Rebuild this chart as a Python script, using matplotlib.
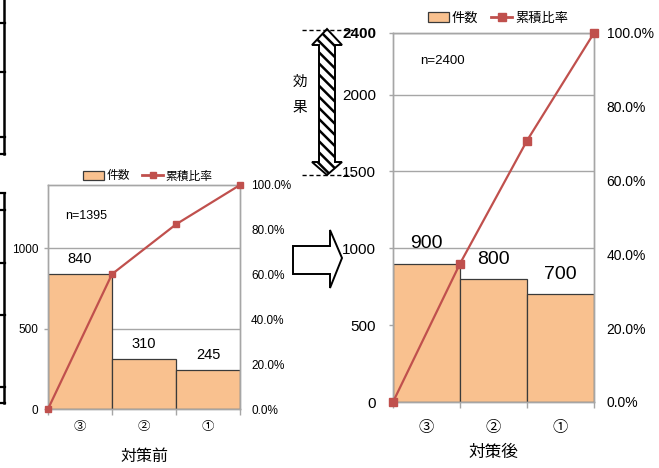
import numpy as np
import matplotlib
matplotlib.use('Agg')
import matplotlib.pyplot as plt
from matplotlib.patches import Polygon, Patch
from matplotlib.lines import Line2D

# 件数 per cause, before and after the countermeasure
cats = ['③', '②', '①']
before = [840, 310, 245]
after = [900, 800, 700]
before_ticks = [0, 500, 1000]
after_ticks = [0, 500, 1000, 1500, 2000, 2400]
pct_ticks = [0, 20, 40, 60, 80, 100]

BAR = '#F9C18F'
EDGE = '#3a3a3a'
LINE = '#C0504D'
GRID = '#A6A6A6'
JP = ['Noto Sans CJK JP', 'DejaVu Sans']
NUM = 'Liberation Sans'

plt.rcParams['hatch.linewidth'] = 1.8

W, H = 659, 468
fig = plt.figure(figsize=(W / 100, H / 100), dpi=100)


def fx(x):
    return x / W


def fy(y):
    return 1 - y / H


def pareto(box, counts, yticks, sz):
    x0, y0, x1, y1 = box
    ax = fig.add_axes([fx(x0), fy(y1), fx(x1) - fx(x0), fy(y0) - fy(y1)])
    total = sum(counts)
    x = np.arange(len(counts))
    ax.bar(x, counts, width=1.0, color=BAR, edgecolor=EDGE, linewidth=0.9, zorder=2)
    ax.set_xlim(-0.5, len(counts) - 0.5)
    ax.set_ylim(0, total)
    ax.set_yticks(yticks)
    ax.set_yticklabels([str(t) for t in yticks], fontsize=sz['tick'], family=NUM)
    ax.grid(axis='y', color=GRID, lw=1.0)
    ax.set_axisbelow(True)
    ax.set_xticks(x)
    ax.set_xticklabels(cats, fontsize=sz['cat'], family=JP)
    ax.set_xticks(np.arange(len(counts) + 1) - 0.5, minor=True)
    ax.tick_params(axis='x', which='major', length=0, pad=sz['catpad'])
    ax.tick_params(axis='x', which='minor', length=4, color=GRID, width=1)
    ax.tick_params(axis='y', length=3, color=GRID, width=1, pad=sz['lpad'])
    for s in ax.spines.values():
        s.set_color(GRID)
        s.set_linewidth(1.0)

    for i, v in enumerate(counts):
        ax.annotate(str(v), (i, v), xytext=(0, sz['voff']), textcoords='offset points',
                    ha='center', va='baseline', fontsize=sz['val'], family=NUM)
    ax.text(sz['nx'], sz['ny'], f'n={total}', transform=ax.transAxes, fontsize=sz['n'],
            family=NUM, va='center')

    ax2 = ax.twinx()
    edges = np.arange(len(counts) + 1) - 0.5
    cum = np.concatenate([[0], np.cumsum(counts)]) / total * 100
    ax2.plot(edges, cum, color=LINE, lw=1.6, marker='s', ms=sz['ms'],
             clip_on=False, zorder=5)
    ax2.set_ylim(0, 100)
    ax2.set_yticks(pct_ticks)
    ax2.set_yticklabels([f'{p:.1f}%' for p in pct_ticks], fontsize=sz['ptick'], family=NUM)
    ax2.tick_params(axis='y', length=0, pad=sz['rpad'])
    for s in ax2.spines.values():
        s.set_color(GRID)
        s.set_linewidth(1.0)

    handles = [Patch(facecolor=BAR, edgecolor=EDGE, linewidth=0.9),
               Line2D([], [], color=LINE, lw=2, marker='s', ms=sz['ms'])]
    ax.legend(handles, ['件数', '累積比率'], loc='center', ncol=2, frameon=False,
              bbox_to_anchor=(fx(sz['legx']), fy(sz['legy'])), bbox_transform=fig.transFigure,
              prop={'family': JP, 'size': sz['leg']}, handlelength=sz['hl'],
              handletextpad=0.2, columnspacing=1.0, borderpad=0)
    return ax


left = pareto((48, 185, 240, 409), before, before_ticks,
              dict(tick=8.5, cat=9, catpad=8, lpad=4, val=10.5, voff=8, n=9, nx=0.09, ny=0.86,
                   ms=5, ptick=8.5, rpad=8, leg=8.5, hl=1.8, legx=148, legy=176))
left.set_xlabel('対策前', family=JP, fontsize=11.5, labelpad=11)

right = pareto((393, 33, 594, 402), after, after_ticks,
               dict(tick=11, cat=11, catpad=12, lpad=9, val=14, voff=11, n=9.5, nx=0.135, ny=0.925,
                    ms=6, ptick=10, rpad=9, leg=9.5, hl=1.6, legx=498, legy=18))
right.set_xlabel('対策後', family=JP, fontsize=12, labelpad=6)
right.get_yticklabels()[-1].set_fontweight('bold')

# hatched double-headed arrow showing the effect
arrow = [(327, 29), (312, 45), (319, 45), (319, 162), (312, 162), (327, 175),
         (342, 162), (335, 162), (335, 45), (342, 45)]
fig.add_artist(Polygon([(fx(a), fy(b)) for a, b in arrow], closed=True,
                       transform=fig.transFigure, facecolor='white', edgecolor='black',
                       hatch='\\\\\\', lw=1.4))
for yy in (30, 175):
    fig.add_artist(Line2D([fx(302), fx(353)], [fy(yy), fy(yy)], transform=fig.transFigure,
                          color='black', lw=1, ls=(0, (3, 2))))
fig.text(fx(300), fy(82), '効', family=JP, fontsize=10.5, ha='center', va='center')
fig.text(fx(300), fy(108), '果', family=JP, fontsize=10.5, ha='center', va='center')

# block arrow between the two charts
block = [(293, 246), (330, 246), (330, 230), (342, 258), (330, 288), (330, 274), (293, 274)]
fig.add_artist(Polygon([(fx(a), fy(b)) for a, b in block], closed=True,
                       transform=fig.transFigure, facecolor='white', edgecolor='black', lw=1.4))

# edge of the neighbouring chart cut off at the left
for top, bottom, ticks in ((0, 154, (23, 72, 137, 154)),
                           (193, 403, (193, 210, 263, 315, 387, 403))):
    fig.add_artist(Line2D([fx(4), fx(4)], [fy(top), fy(bottom)], transform=fig.transFigure,
                          color='black', lw=1.8))
    for t in ticks:
        fig.add_artist(Line2D([0, fx(5)], [fy(t), fy(t)], transform=fig.transFigure,
                              color='black', lw=1.6))

fig.savefig('out.png', dpi=100)
